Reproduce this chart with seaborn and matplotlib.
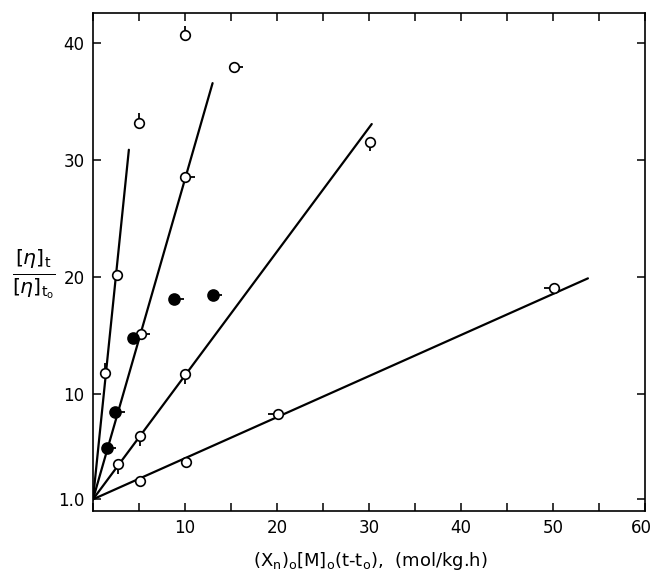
"""Reduced viscosity growth vs (Xn)o[M]o(t-to)."""

import matplotlib.pyplot as plt
import matplotlib.transforms as mtransforms
import pandas as pd
import seaborn as sns
from matplotlib.path import Path

# open circles: x, y, pip direction
open_x = [10.0, 15.3, 5.0, 10.0, 30.1, 2.6, 1.3, 5.2, 10.0, 5.1, 2.7, 5.1, 10.1, 20.1, 50.1]
open_y = [40.7, 38.0, 33.2, 28.6, 31.6, 20.2, 11.8, 15.1, 11.7, 6.4, 4.0, 2.6, 4.2, 8.3, 19.1]
open_pip = ["up", "right", "up", "right", "down", "none", "up", "right", "down",
            "down", "down", "none", "none", "left", "left"]

# filled circles
filled_x = [1.5, 2.4, 4.4, 8.8, 13.0]
filled_y = [5.4, 8.5, 14.8, 18.1, 18.5]
filled_pip = ["right", "right", "none", "right", "right"]

# fitted lines, all start at (0, 1.0)
line_start = (0.0, 1.0)
line_end_x = [3.9, 13.0, 30.3, 53.8]
line_end_y = [30.9, 36.6, 33.1, 19.9]

x_ticks = [0, 10, 20, 30, 40, 50, 60]
x_labels = ["", "10", "20", "30", "40", "50", "60"]
y_ticks = [1, 10, 20, 30, 40]
y_labels = ["1.0", "10", "20", "30", "40"]

sns.set_theme(style="ticks")
plt.rcParams["font.family"] = ["DejaVu Sans"]

fig = plt.figure(figsize=(6.53, 5.77), dpi=100)
ax = fig.add_axes([0.1424, 0.1144, 0.8453, 0.8631])

# lines
rows = []
for i, (ex, ey) in enumerate(zip(line_end_x, line_end_y)):
    rows.append({"line": i, "x": line_start[0], "y": line_start[1]})
    rows.append({"line": i, "x": ex, "y": ey})
lines_df = pd.DataFrame(rows)
sns.lineplot(data=lines_df, x="x", y="y", units="line", estimator=None,
             color="black", linewidth=1.6, ax=ax, legend=False)

pts = pd.DataFrame({
    "x": open_x + filled_x,
    "y": open_y + filled_y,
    "pip": open_pip + filled_pip,
    "filled": [False] * len(open_x) + [True] * len(filled_x),
})

pip_paths = {
    "up": Path([(0, 0.5), (0, 1.0)]),
    "down": Path([(0, -0.5), (0, -1.0)]),
    "right": Path([(0.5, 0), (1.0, 0)]),
    "left": Path([(-0.5, 0), (-1.0, 0)]),
}
circle_s = 48
for d, path in pip_paths.items():
    sub = pts[pts["pip"] == d]
    if len(sub):
        sns.scatterplot(data=sub, x="x", y="y", marker=path, s=4 * circle_s,
                        facecolor="none", edgecolor="black", linewidth=1.3,
                        ax=ax, legend=False, zorder=3)

sns.scatterplot(data=pts[~pts["filled"]], x="x", y="y", marker="o", s=circle_s,
                facecolor="white", edgecolor="black", linewidth=1.2,
                ax=ax, legend=False, zorder=4)
sns.scatterplot(data=pts[pts["filled"]], x="x", y="y", marker="o", s=circle_s * 1.3,
                facecolor="black", edgecolor="black", linewidth=1.2,
                ax=ax, legend=False, zorder=4)

ax.set_xlim(0, 60)
ax.set_ylim(0, 42.6)
ax.set_xticks(x_ticks)
ax.set_xticklabels(x_labels)
ax.set_xticks(range(5, 60, 10), minor=True)
ax.set_yticks(y_ticks)
ax.set_yticklabels(y_labels)
ax.tick_params(which="both", direction="in", length=6, width=1.1,
               top=True, right=True, labelsize=12, color="black",
               labelcolor="black", pad=6)
for sp in ax.spines.values():
    sp.set_linewidth(1.2)
    sp.set_color("black")
ax.set_xlabel("")
ax.set_ylabel("")

# keep the "60" label inside the figure
last = ax.get_xticklabels()[-1]
last.set_transform(last.get_transform() + mtransforms.ScaledTranslation(-4 / 100, 0, fig.dpi_scale_trans))

fig.text(0.567, 0.028,
         r"(X$_\mathregular{n}$)$_\mathregular{o}$[M]$_\mathregular{o}$(t-t$_\mathregular{o}$),  (mol/kg.h)",
         ha="center", va="center", fontsize=13, color="black")
fig.text(0.052, 0.525, r"$\frac{[\eta]_\mathrm{t}}{[\eta]_{\mathrm{t}_\mathrm{o}}}$",
         ha="center", va="center", fontsize=21, color="black")

plt.savefig("out.png", dpi=100)
plt.close()
